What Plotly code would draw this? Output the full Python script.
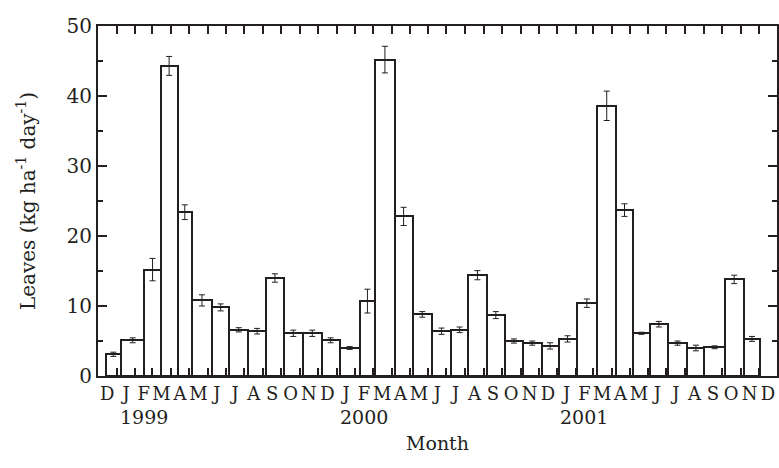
import pandas as pd
import plotly.graph_objects as go

# Litter-trap collection dates; each bar spans one collection interval
collection_dates = [
    "1998-12-14", "1999-01-08", "1999-02-16", "1999-03-15", "1999-04-12",
    "1999-05-06", "1999-06-08", "1999-07-07", "1999-08-07", "1999-09-06",
    "1999-10-05", "1999-11-06", "1999-12-07", "2000-01-06", "2000-02-08",
    "2000-03-05", "2000-04-06", "2000-05-06", "2000-06-07", "2000-07-09",
    "2000-08-06", "2000-09-06", "2000-10-06", "2000-11-05", "2000-12-06",
    "2001-01-03", "2001-02-02", "2001-03-08", "2001-04-09", "2001-05-06",
    "2001-06-04", "2001-07-03", "2001-08-05", "2001-09-02", "2001-10-06",
    "2001-11-06", "2001-12-04",
]

# Leaf fall rate (kg ha-1 day-1) for each interval and its standard error
leaf_fall = [
    3.1, 5.1, 15.2, 44.3, 23.4, 10.8, 9.8, 6.6, 6.4, 14.0, 6.1, 6.1,
    5.1, 4.0, 10.7, 45.2, 22.8, 8.8, 6.4, 6.6, 14.4, 8.7, 5.0, 4.7,
    4.3, 5.3, 10.4, 38.6, 23.7, 6.1, 7.4, 4.7, 4.0, 4.1, 13.8, 5.3,
]
leaf_fall_se = [
    0.3, 0.35, 1.6, 1.35, 1.05, 0.8, 0.5, 0.3, 0.4, 0.6, 0.45, 0.45,
    0.35, 0.2, 1.7, 1.9, 1.3, 0.4, 0.45, 0.4, 0.65, 0.5, 0.3, 0.3,
    0.45, 0.45, 0.6, 2.1, 0.9, 0.15, 0.4, 0.3, 0.4, 0.2, 0.6, 0.35,
]

# Month initials from December 1998 to December 2001
month_letters = ["D"] + ["J", "F", "M", "A", "M", "J", "J", "A", "S", "O", "N", "D"] * 3
year_labels = ["1999", "2000", "2001"]
y_major = [0, 10, 20, 30, 40, 50]
y_minor = [5, 15, 25, 35, 45]

INK = "#231f20"
FONT = "DejaVu Serif"
X_RANGE = ["1998-12-01", "2001-12-31 12:00"]
Y_RANGE = [0, 50]

dates = pd.to_datetime(collection_dates)
starts, ends = dates[:-1], dates[1:]
mid = starts + (ends - starts) / 2
widths_ms = [(e - s).total_seconds() * 1000 for s, e in zip(starts, ends)]

# month boundaries carry the tick marks; month letters sit mid-month
month_starts = pd.date_range("1998-12-01", "2002-01-01", freq="MS")
month_mids = month_starts[:-1] + (month_starts[1:] - month_starts[:-1]) / 2
month_ticks = [d.strftime("%Y-%m-%d") for d in month_starts[1:-1]]
month_label_pos = [d.strftime("%Y-%m-%d %H:%M") for d in month_mids]

fig = go.Figure()
# open bars spanning each collection interval
fig.add_trace(go.Bar(
    x=mid, y=leaf_fall, width=widths_ms,
    marker=dict(color="white", line=dict(color=INK, width=2)),
    showlegend=False, hoverinfo="skip",
))
# standard-error whiskers at the centre of each interval, placed on the
# overlaid frame axes that also carry the top and right tick marks
fig.add_trace(go.Scatter(
    x=mid, y=leaf_fall, mode="markers",
    marker=dict(size=1, color="rgba(0,0,0,0)"),
    error_y=dict(type="data", array=leaf_fall_se, color=INK, thickness=1, width=3),
    xaxis="x2", yaxis="y2", showlegend=False,
))

for year in year_labels:
    fig.add_annotation(
        x=f"{year}-02-15", y=-0.118, xref="x", yref="paper",
        text=year, showarrow=False, yanchor="middle", xanchor="center",
        font=dict(family=FONT, size=19, color=INK),
    )

frame = dict(showline=True, linewidth=2, linecolor=INK, showgrid=False, zeroline=False)
tick_style = dict(ticks="inside", tickwidth=2, tickcolor=INK)

fig.update_layout(
    width=779, height=468,
    margin=dict(l=98, r=2, t=26, b=92),
    paper_bgcolor="white", plot_bgcolor="white",
    font=dict(family=FONT, color=INK),
    bargap=0,
    xaxis=dict(
        type="date", range=X_RANGE,
        tickmode="array", tickvals=month_label_pos, ticktext=month_letters,
        tickangle=0, ticks="",
        tickfont=dict(family=FONT, size=18, color=INK),
        minor=dict(tickmode="array", tickvals=month_ticks, ticklen=8,
                   showgrid=False, **tick_style),
        title=dict(text="Month", font=dict(family=FONT, size=19, color=INK), standoff=34),
        **frame,
    ),
    xaxis2=dict(
        type="date", range=X_RANGE, overlaying="x", side="top", anchor="y2",
        tickmode="array", tickvals=month_ticks, ticklen=8, showticklabels=False,
        **tick_style, **frame,
    ),
    yaxis=dict(
        range=Y_RANGE,
        tickmode="array", tickvals=y_major, ticklen=9,
        tickfont=dict(family=FONT, size=20, color=INK),
        minor=dict(tickmode="array", tickvals=y_minor, ticklen=5,
                   showgrid=False, **tick_style),
        title=dict(text="Leaves (kg ha<sup>-1</sup> day<sup>-1</sup>)",
                   font=dict(family=FONT, size=20, color=INK), standoff=26),
        **tick_style, **frame,
    ),
    yaxis2=dict(
        range=Y_RANGE, overlaying="y", side="right", anchor="x2",
        tickmode="array", tickvals=y_major, ticklen=9, showticklabels=False,
        minor=dict(tickmode="array", tickvals=y_minor, ticklen=5,
                   showgrid=False, **tick_style),
        **tick_style, **frame,
    ),
)

fig.write_html("out.html")
